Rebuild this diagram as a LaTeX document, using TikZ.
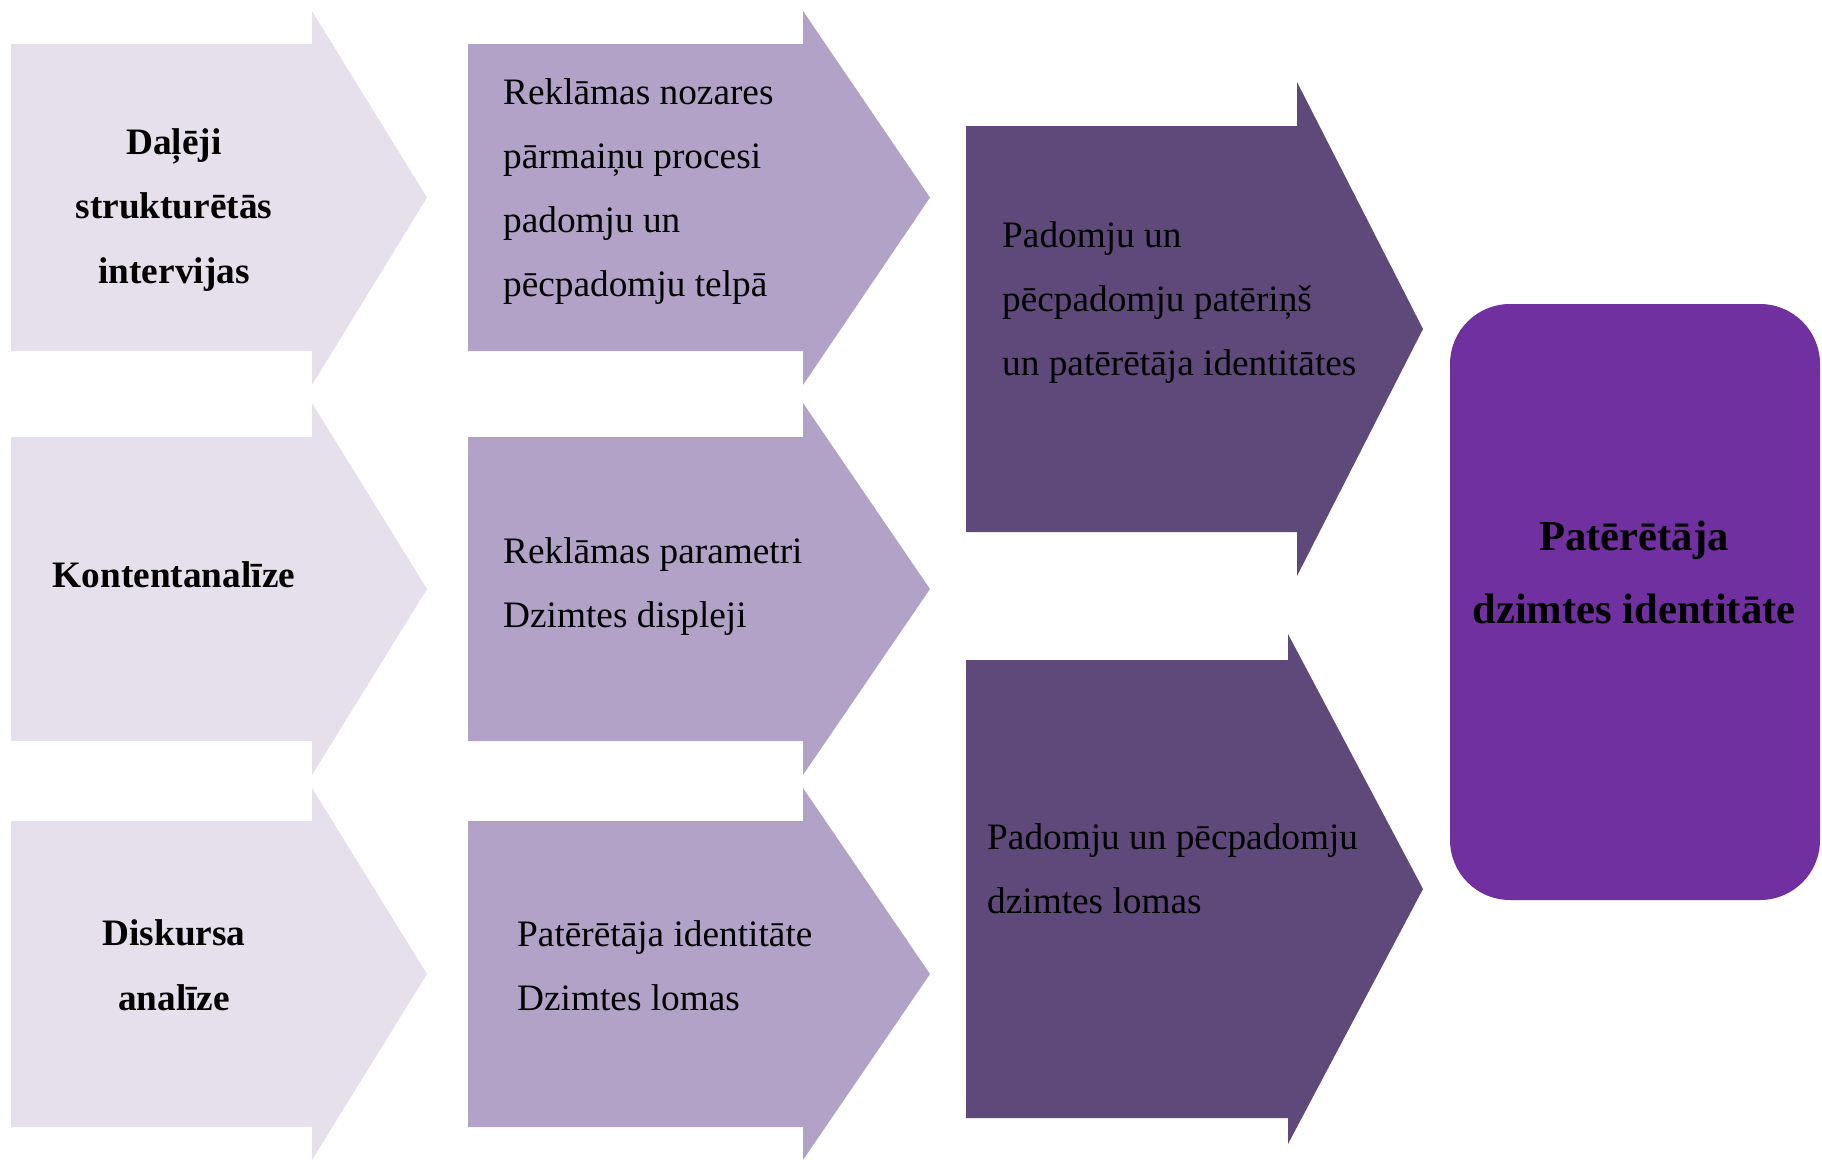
\documentclass[tikz,border=0pt]{standalone}
\usepackage{fontspec}
\setmainfont{Liberation Serif}
\usetikzlibrary{positioning}

\definecolor{lightlav}{HTML}{E6E0EC}
\definecolor{midlav}{HTML}{B2A2C7}
\definecolor{darklav}{HTML}{5F497A}
\definecolor{bigpurple}{HTML}{7030A0}

\tikzset{
	method/.style={anchor=base, align=center, inner sep=0pt, font=\fontsize{37.3}{64.5}\selectfont\bfseries},
	topic/.style={anchor=base west, align=left, inner sep=0pt, font=\fontsize{37.3}{64}\selectfont},
	result/.style={anchor=base, align=center, inner sep=0pt, font=\fontsize{42.6}{73}\selectfont\bfseries}
}

\begin{document}
\begin{tikzpicture}[x=1pt, y=-1pt]
		\useasboundingbox (0,0) rectangle (1822,1159);
		
		% first column
		\fill [lightlav] (11,44) -- (312,44) -- (312,11) -- (427,197.5) -- (312,385) -- (312,351) -- (11,351) -- cycle;
		\fill [lightlav] (11,437) -- (312,437) -- (312,403) -- (427,589) -- (312,775) -- (312,741) -- (11,741) -- cycle;
		\fill [lightlav] (11,821) -- (312,821) -- (312,788) -- (427,974) -- (312,1160) -- (312,1127) -- (11,1127) -- cycle;
		
		% second column
		\fill [midlav] (468,44) -- (803,44) -- (803,11) -- (930,197.5) -- (803,385) -- (803,351) -- (468,351) -- cycle;
		\fill [midlav] (468,437) -- (803,437) -- (803,403) -- (930,589) -- (803,775) -- (803,741) -- (468,741) -- cycle;
		\fill [midlav] (468,821) -- (803,821) -- (803,788) -- (930,974) -- (803,1160) -- (803,1127) -- (468,1127) -- cycle;
		
		% third column
		\fill [darklav] (966,126) -- (1297,126) -- (1297,82) -- (1423,329) -- (1297,576) -- (1297,532) -- (966,532) -- cycle;
		\fill [darklav] (966,660) -- (1288,660) -- (1288,634) -- (1423,889) -- (1288,1144) -- (1288,1118) -- (966,1118) -- cycle;
		
		% result
		\fill [bigpurple, rounded corners=60pt] (1450,304) rectangle (1820,900);
		
		\node [method] (interviews) at (174,283) {Daļēji\\strukturētās\\intervijas};
		\node [method] (content) at (174,587) {Kontentanalīze};
		\node [method] (discourse) at (174,1010) {Diskursa\\analīze};
		
		\node [topic] (industry) at (503,296) {Reklāmas nozares\\pārmaiņu procesi\\padomju un\\pēcpadomju telpā};
		\node [topic] (params) at (503,627) {Reklāmas parametri\\Dzimtes displeji};
		\node [topic] (roles) at (517,1010) {Patērētāja identitāte\\Dzimtes lomas};
		
		\node [topic] (consumption) at (1002,375) {Padomju un\\pēcpadomju patēriņš\\un patērētāja identitātes};
		\node [topic] (genderroles) at (987,913) {Padomju un pēcpadomju\\dzimtes lomas};
		
		\node [result] (identity) at (1634,623) {Patērētāja\\dzimtes identitāte};
\end{tikzpicture}
\end{document}
